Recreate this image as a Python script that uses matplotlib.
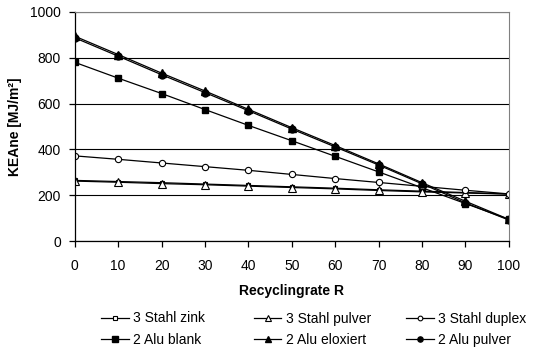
import matplotlib.pyplot as plt

plt.rcParams['font.family'] = ['Liberation Sans', 'DejaVu Sans']

# Recycling rate (x) and KEAne values
recycling = [0, 10, 20, 30, 40, 50, 60, 70, 80, 90, 100]
stahl_zink = [265, 260, 255, 249, 243, 237, 231, 224, 218, 212, 206]
stahl_pulver = [262, 257, 251, 246, 240, 234, 228, 221, 215, 210, 205]
stahl_duplex = [372, 357, 341, 325, 309, 291, 273, 256, 239, 222, 206]
alu_blank = [780, 711, 644, 574, 505, 438, 370, 302, 233, 164, 95]
alu_eloxiert = [894, 814, 733, 655, 575, 495, 417, 337, 255, 174, 95]
alu_pulver = [887, 807, 726, 648, 569, 489, 411, 332, 250, 167, 92]

fig = plt.figure(figsize=(5.34, 3.5), dpi=100)
ax = fig.add_axes([0.140, 0.311, 0.813, 0.655])

kw = dict(color="black", linewidth=0.9)
h_zink, = ax.plot(recycling, stahl_zink, marker="s", markersize=3.5, markerfacecolor="white",
                  markeredgewidth=0.8, label="3 Stahl zink", **kw)
h_blank, = ax.plot(recycling, alu_blank, marker="s", markersize=5, label="2 Alu blank", **kw)
h_spulver, = ax.plot(recycling, stahl_pulver, marker="^", markersize=5.5, markerfacecolor="white",
                     markeredgewidth=0.8, label="3 Stahl pulver", **kw)
h_elox, = ax.plot(recycling, alu_eloxiert, marker="^", markersize=5.5, label="2 Alu eloxiert", **kw)
h_duplex, = ax.plot(recycling, stahl_duplex, marker="o", markersize=4.5, markerfacecolor="white",
                    markeredgewidth=0.8, label="3 Stahl duplex", **kw)
h_apulver, = ax.plot(recycling, alu_pulver, marker="o", markersize=5, label="2 Alu pulver", **kw)

ax.set_xlim(0, 100)
ax.set_ylim(0, 1000)
ax.set_xticks(range(0, 101, 10))
ax.set_yticks(range(0, 1001, 200))
ax.yaxis.grid(True, color="black", linewidth=0.8)
ax.set_axisbelow(True)

for side in ["top", "right"]:
    ax.spines[side].set_color("#808080")
for side in ["left", "bottom"]:
    ax.spines[side].set_linewidth(0.9)
ax.tick_params(axis="both", direction="out", length=4, width=0.9, labelsize=10)
ax.tick_params(axis="x", pad=9)
ax.tick_params(axis="y", pad=6)

ax.set_xlabel("Recyclingrate R", fontsize=10, fontweight="bold", labelpad=8)
ax.set_ylabel("KEAne [MJ/m²]", fontsize=10, fontweight="bold", labelpad=6)

# one legend per column so the columns sit at equal spacing
columns = [(h_zink, h_blank), (h_spulver, h_elox), (h_duplex, h_apulver)]
col_x = [0.190, 0.475, 0.760]
for handles, x in zip(columns, col_x):
    leg = fig.legend(handles=list(handles), loc="upper left", bbox_to_anchor=(x, 0.11),
                     frameon=False, fontsize=10, handlelength=2.0, handletextpad=0.3,
                     labelspacing=0.55, markerscale=0.75, borderaxespad=0, borderpad=0)

fig.savefig("out.png", dpi=100)
